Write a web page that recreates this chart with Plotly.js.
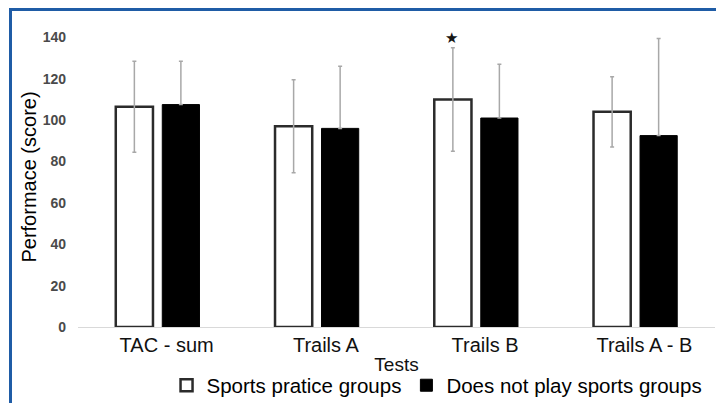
<!DOCTYPE html>
<html>
<head>
<meta charset="utf-8">
<script src="https://cdn.plot.ly/plotly-3.0.1.min.js"></script>
<style>
  html, body { margin: 0; padding: 0; overflow: hidden; background: #fff; }
  #chart { width: 716px; height: 403px; }
  #frame { position: absolute; left: 9px; top: 8px; width: 720px; height: 400px;
           border-top: 3px solid #1f5ca6; border-left: 3px solid #1f5ca6; pointer-events: none; }
</style>
</head>
<body>
<div id="chart"></div>
<div id="frame"></div>
<script>
const categories = ['TAC - sum', 'Trails A', 'Trails B', 'Trails A - B'];
const seriesNames = ['Sports pratice groups', 'Does not play sports groups'];
const sportsMean = [106.5, 97, 110, 104];
const sportsSD = [22, 22.5, 25, 17];
const noSportsMean = [107.5, 96, 101, 92.5];
const noSportsSD = [21, 30, 26, 47];
const noSportsLowerShown = [0, 0, 0, 0];
const yTicks = [0, 20, 40, 60, 80, 100, 120, 140];
const starCategory = 'Trails B';
const starIndex = categories.indexOf(starCategory);

const FONT = 'Liberation Sans, Arial, sans-serif';

const traces = [
  {
    type: 'bar', name: seriesNames[0], x: categories, y: sportsMean,
    marker: { color: '#ffffff', line: { color: '#2b2b2b', width: 2.5 } },
    error_y: { type: 'data', array: sportsSD, visible: true, color: '#a8a8a8', thickness: 1.5, width: 2 }
  },
  {
    type: 'bar', name: seriesNames[1], x: categories, y: noSportsMean,
    marker: { color: '#000000', line: { color: '#000000', width: 1 } },
    error_y: { type: 'data', symmetric: false, array: noSportsSD, arrayminus: noSportsLowerShown,
               visible: true, color: '#a8a8a8', thickness: 1.5, width: 2 }
  }
];

const layout = {
  width: 716, height: 403,
  margin: { l: 78, r: 1, t: 27, b: 76, autoexpand: false },
  paper_bgcolor: '#ffffff', plot_bgcolor: '#ffffff',
  font: { family: FONT, color: '#000' },
  barmode: 'group', bargap: 0.416, bargroupgap: 0.2,
  showlegend: true,
  legend: {
    orientation: 'h', x: 0.139, xanchor: 'left', y: -0.128, yanchor: 'top',
    font: { family: FONT, size: 20.5, color: '#000' },
    bgcolor: 'rgba(0,0,0,0)', itemclick: false, traceorder: 'normal'
  },
  xaxis: {
    type: 'category', range: [-0.5, 3.5],
    showline: true, linecolor: '#d9d9d9', linewidth: 1,
    showgrid: false, zeroline: false, ticks: '',
    tickfont: { family: FONT, size: 20, color: '#111' },
    ticklabelshift: 9,
    title: { text: 'Tests', font: { family: FONT, size: 19, color: '#111' }, standoff: 2 },
    automargin: false
  },
  yaxis: {
    range: [0, 145], tickvals: yTicks, ticktext: yTicks.map(String),
    showline: false, showgrid: false, zeroline: false, ticks: '',
    ticklabelstandoff: 11,
    tickfont: { family: 'Liberation Sans, Arial, sans-serif', size: 14, color: '#4a4a4a', weight: 'bold' },
    title: { text: 'Performace (score)', font: { family: FONT, size: 20, color: '#000' }, standoff: 0 },
    automargin: false
  },
  annotations: [
    {
      xref: 'x', yref: 'y', x: starCategory,
      y: sportsMean[starIndex] + sportsSD[starIndex],
      text: '★', showarrow: false, xshift: -25, yshift: 10,
      font: { family: 'DejaVu Sans', size: 15, color: '#151515' }
    }
  ]
};

Plotly.newPlot('chart', traces, layout, { displayModeBar: false, staticPlot: true });
</script>
</body>
</html>
